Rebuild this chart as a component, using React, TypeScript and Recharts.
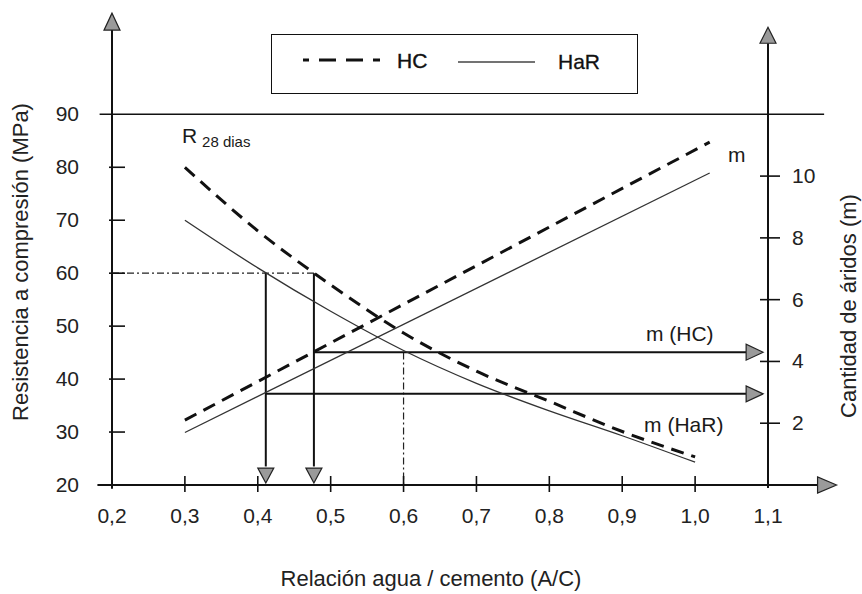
import { ComposedChart, Line, XAxis, YAxis, ReferenceLine, ReferenceDot, Legend } from 'recharts';

// Relación agua / cemento where the R28 curves were read
const acPoints = [0.3, 0.4, 0.5, 0.6, 0.7, 0.8, 0.9, 1.0];
const hcR28 = [80, 68, 57.8, 48.7, 41.5, 35.8, 30.1, 25.3];
const harR28 = [70, 61, 52.8, 45.4, 39.2, 34.0, 29.3, 24.3];

// cantidad de áridos (m), straight lines
const acM = [0.3, 1.02];
const hcM = [2.1, 11.1];
const harM = [1.7, 10.1];

const xTicks = [0.2, 0.3, 0.4, 0.5, 0.6, 0.7, 0.8, 0.9, 1.0, 1.1];
const xTickLabels = ['0,2', '0,3', '0,4', '0,5', '0,6', '0,7', '0,8', '0,9', '1,0', '1,1'];
const resTicks = [20, 30, 40, 50, 60, 70, 80, 90];
const mTicks = [2, 4, 6, 8, 10];

// worked example drawn on the figure
const targetR = 60;
const acHaR = 0.411;
const acHC = 0.477;
const mHC = 4.3;
const mHaR = 2.95;
const acCheck = 0.6;
const resCheck = 45;

const FONT = '"Liberation Sans", Arial, Helvetica, sans-serif';
const INK = '#111';
const ARROW_FILL = '#9a9a9a';

// 20..90 MPa on the left matches 0..12 on the right
const resDomain = [20, 108];
const mDomain = [0, ((resDomain[1] - resDomain[0]) * 12) / 70];

const hcRData = acPoints.map((ac, i) => ({ ac, r: hcR28[i] }));
const harRData = acPoints.map((ac, i) => ({ ac, r: harR28[i] }));
const hcMData = acM.map((ac, i) => ({ ac, m: hcM[i] }));
const harMData = acM.map((ac, i) => ({ ac, m: harM[i] }));

const arrow = (dir: 'up' | 'down' | 'right', len = 17, half = 8) => (p: any) => {
  const { cx, cy } = p;
  let pts = '';
  if (dir === 'up') pts = `${cx},${cy - len} ${cx - half},${cy} ${cx + half},${cy}`;
  if (dir === 'down') pts = `${cx},${cy + len} ${cx - half},${cy} ${cx + half},${cy}`;
  if (dir === 'right') pts = `${cx + len},${cy} ${cx},${cy - half} ${cx},${cy + half}`;
  return <polygon points={pts} fill={ARROW_FILL} stroke="#222" strokeWidth={1.2} />;
};

const note = (txt: string, size = 21) => (p: any) => (
  <text x={p.cx} y={p.cy} fontSize={size} fontFamily={FONT} fill="#1a1a1a">
    {txt}
  </text>
);

const r28Note = (p: any) => (
  <text x={p.cx - 3} y={p.cy} fontFamily={FONT} fill="#1a1a1a">
    <tspan fontSize={21}>R</tspan>
    <tspan fontSize={15} dx={5} dy={4}>28 dias</tspan>
  </text>
);

const LeftTick = (p: any) => {
  const { x, y, payload } = p;
  return (
    <g>
      {payload.value > 20 && payload.value < 90 && (
        <line x1={x - 3} x2={x + 13} y1={y} y2={y} stroke={INK} strokeWidth={1.6} />
      )}
      <text x={x - 33} y={y} dy={7} textAnchor="end" fontSize={21} fontFamily={FONT} fill="#222">
        {payload.value}
      </text>
    </g>
  );
};

const RightTick = (p: any) => {
  const { x, y, payload } = p;
  return (
    <g>
      <line x1={x - 8} x2={x + 12} y1={y} y2={y} stroke={INK} strokeWidth={1.6} />
      <text x={x + 24} y={y} dy={7} textAnchor="start" fontSize={21} fontFamily={FONT} fill="#222">
        {payload.value}
      </text>
    </g>
  );
};

const BottomTick = (p: any) => {
  const { x, y, index, payload } = p;
  const v = payload.value;
  return (
    <g>
      {v > 0.25 && v < 1.05 && <line x1={x} x2={x} y1={y - 9} y2={y + 7} stroke={INK} strokeWidth={1.6} />}
      <text x={x} y={y + 38} textAnchor="middle" fontSize={21} fontFamily={FONT} fill="#222">
        {xTickLabels[index]}
      </text>
    </g>
  );
};

const box = (p: any) => p.viewBox ?? { x: 0, y: 0, width: 0, height: 0 };

const LegendBox = () => (
  <div
    style={{
      width: 367,
      height: 60,
      border: `1.5px solid ${INK}`,
      boxSizing: 'border-box',
      background: '#fff',
    }}
  >
    <svg width={364} height={57} style={{ display: 'block' }}>
      <line x1={31} x2={108} y1={25} y2={25} stroke={INK} strokeWidth={3} strokeDasharray="6 10 17 10 17 10 7" />
      <text x={125} y={33} fontSize={21} fontFamily={FONT} fill={INK} stroke={INK} strokeWidth={0.4}>HC</text>
      <line x1={186} x2={263} y1={27} y2={27} stroke="#444" strokeWidth={1.3} />
      <text x={286} y={34} fontSize={21} fontFamily={FONT} fill={INK} stroke={INK} strokeWidth={0.3}>HaR</text>
    </svg>
  </div>
);

export default function App() {
  return (
    <div style={{ position: 'absolute', left: 0, top: 0, background: '#fff' }}>
      <ComposedChart width={862} height={594} margin={{ top: 19, right: 34, bottom: 49, left: 52 }}>
        <XAxis
          dataKey="ac"
          type="number"
          domain={[0.2, 1.1]}
          ticks={xTicks}
          interval={0}
          height={60}
          axisLine={false}
          tickLine={false}
          tickSize={0}
          tickMargin={0}
          tick={<BottomTick />}
          label={(p: any) => {
            const vb = box(p);
            return (
              <text x={vb.x + 319} y={vb.y + 101} textAnchor="middle" fontSize={22} fontFamily={FONT} fill="#222">
                Relación agua / cemento (A/C)
              </text>
            );
          }}
        />
        <YAxis
          yAxisId="r"
          type="number"
          domain={resDomain}
          ticks={resTicks}
          interval={0}
          width={60}
          axisLine={false}
          tickLine={false}
          tickSize={0}
          tickMargin={0}
          tick={<LeftTick />}
          label={(p: any) => {
            const vb = box(p);
            const cx = vb.x - 32;
            const cy = vb.y + vb.height / 2 + 10;
            return (
              <text
                x={cx}
                y={cy}
                transform={`rotate(-90 ${cx} ${cy})`}
                textAnchor="middle"
                dominantBaseline="central"
                fontSize={22}
                fontFamily={FONT}
                fill="#222"
              >
                Resistencia a compresión (MPa)
              </text>
            );
          }}
        />
        <YAxis
          yAxisId="m"
          orientation="right"
          type="number"
          domain={mDomain}
          ticks={mTicks}
          interval={0}
          width={60}
          axisLine={false}
          tickLine={false}
          tickSize={0}
          tickMargin={0}
          tick={<RightTick />}
          label={(p: any) => {
            const vb = box(p);
            const cx = vb.x + 80;
            const cy = vb.y + vb.height / 2 + 54;
            return (
              <text
                x={cx}
                y={cy}
                transform={`rotate(-90 ${cx} ${cy})`}
                textAnchor="middle"
                dominantBaseline="central"
                fontSize={22}
                fontFamily={FONT}
                fill="#222"
              >
                Cantidad de áridos (m)
              </text>
            );
          }}
        />

        <Legend
          layout="vertical"
          align="center"
          verticalAlign="middle"
          wrapperStyle={{ left: 271, top: 34, width: 367, height: 60 }}
          content={() => <LegendBox />}
        />

        {/* axes drawn by hand so they can run past the plot and carry arrowheads */}
        <ReferenceLine yAxisId="r" ifOverflow="visible" stroke={INK} strokeWidth={2}
          segment={[{ x: 0.18, y: 20 }, { x: 1.17, y: 20 }]} />
        <ReferenceLine yAxisId="r" ifOverflow="visible" stroke={INK} strokeWidth={2}
          segment={[{ x: 0.2, y: 19.3 }, { x: 0.2, y: 106 }]} />
        <ReferenceLine yAxisId="m" ifOverflow="visible" stroke={INK} strokeWidth={2}
          segment={[{ x: 1.1, y: -0.1 }, { x: 1.1, y: 14.3 }]} />
        <ReferenceLine yAxisId="r" ifOverflow="visible" stroke={INK} strokeWidth={1.6}
          segment={[{ x: 0.183, y: 90 }, { x: 1.177, y: 90 }]} />
        <ReferenceDot yAxisId="r" x={0.2} y={105.9} ifOverflow="visible" shape={arrow('up')} />
        <ReferenceDot yAxisId="m" x={1.1} y={14.3} ifOverflow="visible" shape={arrow('up', 16)} />
        <ReferenceDot yAxisId="r" x={1.168} y={20} ifOverflow="visible" shape={arrow('right', 19)} />

        {/* worked example */}
        <ReferenceLine yAxisId="r" ifOverflow="visible" stroke="#222" strokeWidth={1.2} strokeDasharray="7 3 2 3"
          segment={[{ x: 0.2, y: targetR }, { x: acHC, y: targetR }]} />
        <ReferenceLine yAxisId="r" ifOverflow="visible" stroke="#222" strokeWidth={1.2} strokeDasharray="7 3 2 3"
          segment={[{ x: acCheck, y: resCheck }, { x: acCheck, y: 20 }]} />
        <ReferenceLine yAxisId="r" ifOverflow="visible" stroke={INK} strokeWidth={2}
          segment={[{ x: acHaR, y: targetR }, { x: acHaR, y: 23.5 }]} />
        <ReferenceLine yAxisId="r" ifOverflow="visible" stroke={INK} strokeWidth={2}
          segment={[{ x: acHC, y: targetR }, { x: acHC, y: 23.5 }]} />
        <ReferenceDot yAxisId="r" x={acHaR} y={23.2} ifOverflow="visible" shape={arrow('down', 15)} />
        <ReferenceDot yAxisId="r" x={acHC} y={23.2} ifOverflow="visible" shape={arrow('down', 15)} />
        <ReferenceLine yAxisId="m" ifOverflow="visible" stroke={INK} strokeWidth={2}
          segment={[{ x: acHC, y: mHC }, { x: 1.07, y: mHC }]} />
        <ReferenceLine yAxisId="m" ifOverflow="visible" stroke={INK} strokeWidth={2}
          segment={[{ x: acHaR, y: mHaR }, { x: 1.07, y: mHaR }]} />
        <ReferenceDot yAxisId="m" x={1.07} y={mHC} ifOverflow="visible" shape={arrow('right')} />
        <ReferenceDot yAxisId="m" x={1.07} y={mHaR} ifOverflow="visible" shape={arrow('right')} />

        <Line yAxisId="r" data={hcRData} dataKey="r" type="monotone" stroke={INK} strokeWidth={3}
          strokeDasharray="13 8" dot={false} activeDot={false} isAnimationActive={false} />
        <Line yAxisId="r" data={harRData} dataKey="r" type="monotone" stroke="#333" strokeWidth={1.3}
          dot={false} activeDot={false} isAnimationActive={false} />
        <Line yAxisId="m" data={hcMData} dataKey="m" type="linear" stroke={INK} strokeWidth={3}
          strokeDasharray="13 8" dot={false} activeDot={false} isAnimationActive={false} />
        <Line yAxisId="m" data={harMData} dataKey="m" type="linear" stroke="#333" strokeWidth={1.3}
          dot={false} activeDot={false} isAnimationActive={false} />

        <ReferenceDot yAxisId="r" x={0.3} y={84.5} ifOverflow="visible" shape={r28Note} />
        <ReferenceDot yAxisId="m" x={1.045} y={10.45} ifOverflow="visible" shape={note('m')} />
        <ReferenceDot yAxisId="m" x={0.9325} y={4.66} ifOverflow="visible" shape={note('m (HC)')} />
        <ReferenceDot yAxisId="m" x={0.93} y={1.72} ifOverflow="visible" shape={note('m (HaR)')} />
      </ComposedChart>
    </div>
  );
}
